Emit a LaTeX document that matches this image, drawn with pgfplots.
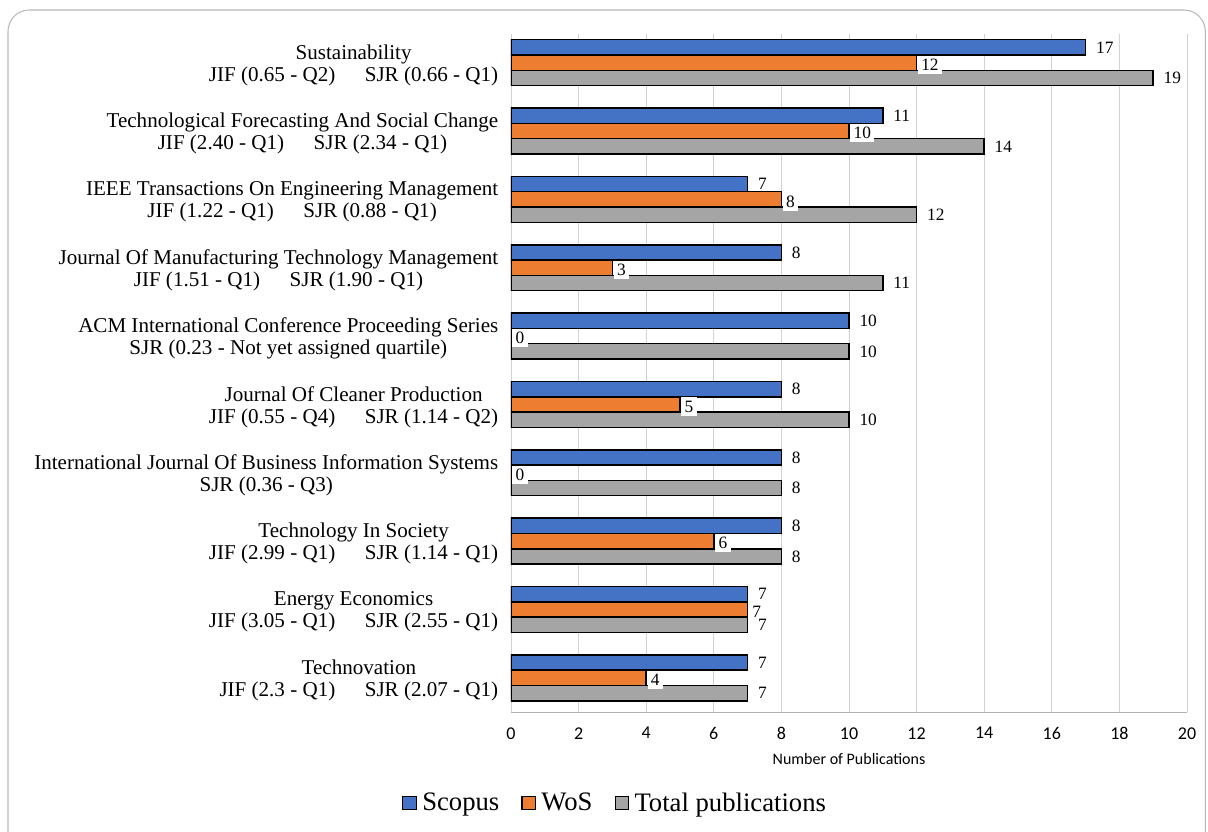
\documentclass[border=0pt]{standalone}
\usepackage{fontspec}
\setmainfont{Liberation Serif}
\newfontfamily\calibri{Carlito}
\newfontfamily\timesf{Liberation Serif}
\usepackage{pgfplots}
\pgfplotsset{compat=1.18}
\definecolor{cScopus}{HTML}{4472C4}
\definecolor{cWoS}{HTML}{ED7D31}
\definecolor{cTot}{HTML}{A5A5A5}
\begin{document}
\begin{tikzpicture}
\useasboundingbox (0pt,0pt) rectangle (906pt,624pt);
\draw[gray!55, line width=0.8pt, rounded corners=16pt] (6pt,-30pt) rectangle (904pt,616.5pt);
\begin{axis}[
  at={(383.25pt,90pt)}, anchor=south west,
  scale only axis, width=507pt, height=508.5pt,
  xbar, bar width=0.224,
  xmin=0, xmax=20, ymin=-0.42, ymax=9.5, y dir=reverse,
  xtick={0,2,...,20},
  ytick={0,...,9},
  yticklabels={
    {Sustainability\\JIF (0.65 - Q2)\hspace{1.4em}SJR (0.66 - Q1)},
    {Technological Forecasting And Social Change\\JIF (2.40 - Q1)\hspace{1.4em}SJR (2.34 - Q1)},
    {IEEE Transactions On Engineering Management\\JIF (1.22 - Q1)\hspace{1.4em}SJR (0.88 - Q1)},
    {Journal Of Manufacturing Technology Management\\JIF (1.51 - Q1)\hspace{1.4em}SJR (1.90 - Q1)},
    {ACM International Conference Proceeding Series\\SJR (0.23 - Not yet assigned quartile)},
    {Journal Of Cleaner Production\\JIF (0.55 - Q4)\hspace{1.4em}SJR (1.14 - Q2)},
    {International Journal Of Business Information Systems\\SJR (0.36 - Q3)},
    {Technology In Society\\JIF (2.99 - Q1)\hspace{1.4em}SJR (1.14 - Q1)},
    {Energy Economics\\JIF (3.05 - Q1)\hspace{1.4em}SJR (2.55 - Q1)},
    {Technovation\\JIF (2.3 - Q1)\hspace{1.4em}SJR (2.07 - Q1)}
  },
  yticklabel style={align=center, font=\timesf\fontsize{15.8}{16.5}\selectfont, xshift=-6pt, yshift=-2pt},
  /pgf/number format/assume math mode=true,
  xticklabel style={font=\calibri\fontsize{13.5}{15}\selectfont, yshift=-8pt},
  xlabel={Number of Publications},
  xlabel style={font=\calibri\fontsize{12}{14}\selectfont, yshift=-3pt},
  xmajorgrids, grid style={gray!35, line width=0.6pt},
  axis x line*=bottom, axis y line*=left,
  x axis line style={gray!60, line width=0.6pt, -},
  y axis line style={draw=none},
  major tick length=0pt, tick style={draw=none},
  point meta=x,
  legend style={at={(axis description cs:0.154,-0.134)}, anchor=center,
    legend columns=3, draw=none, fill=none,
    font=\timesf\fontsize{20}{24}\selectfont,
    nodes={inner xsep=1.5pt},
    /tikz/every even column/.append style={column sep=15pt}},
  legend image code/.code={\draw[#1, line width=0.9pt] (0pt,-5pt) rectangle (10pt,5pt); \path (12.5pt,0pt);},
  legend cell align=left,
]
\addplot[fill=cScopus, draw=black, line width=1.1pt, bar shift=-0.224,
  nodes near coords, nodes near coords style={font=\timesf\fontsize{13}{14}\selectfont, anchor=west, xshift=4pt}]
  coordinates {(17,0) (11,1) (7,2) (8,3) (10,4) (8,5) (8,6) (8,7) (7,8) (7,9)};
\addplot[fill=cWoS, draw=black, line width=1.1pt, bar shift=0,
  nodes near coords, nodes near coords style={font=\timesf\fontsize{13}{14}\selectfont, anchor=west, fill=white, inner sep=2.5pt, xshift=0.5pt, yshift=-1.5pt}]
  coordinates {(12,0) (10,1) (8,2) (3,3) (0,4) (5,5) (0,6) (6,7) (7,8) (4,9)};
\addplot[fill=cTot, draw=black, line width=1.1pt, bar shift=0.224,
  nodes near coords, nodes near coords style={font=\timesf\fontsize{13}{14}\selectfont, anchor=west, xshift=4pt}]
  coordinates {(19,0) (14,1) (12,2) (11,3) (10,4) (10,5) (8,6) (8,7) (7,8) (7,9)};
\legend{Scopus, WoS, Total publications}
\end{axis}
\end{tikzpicture}
\end{document}
